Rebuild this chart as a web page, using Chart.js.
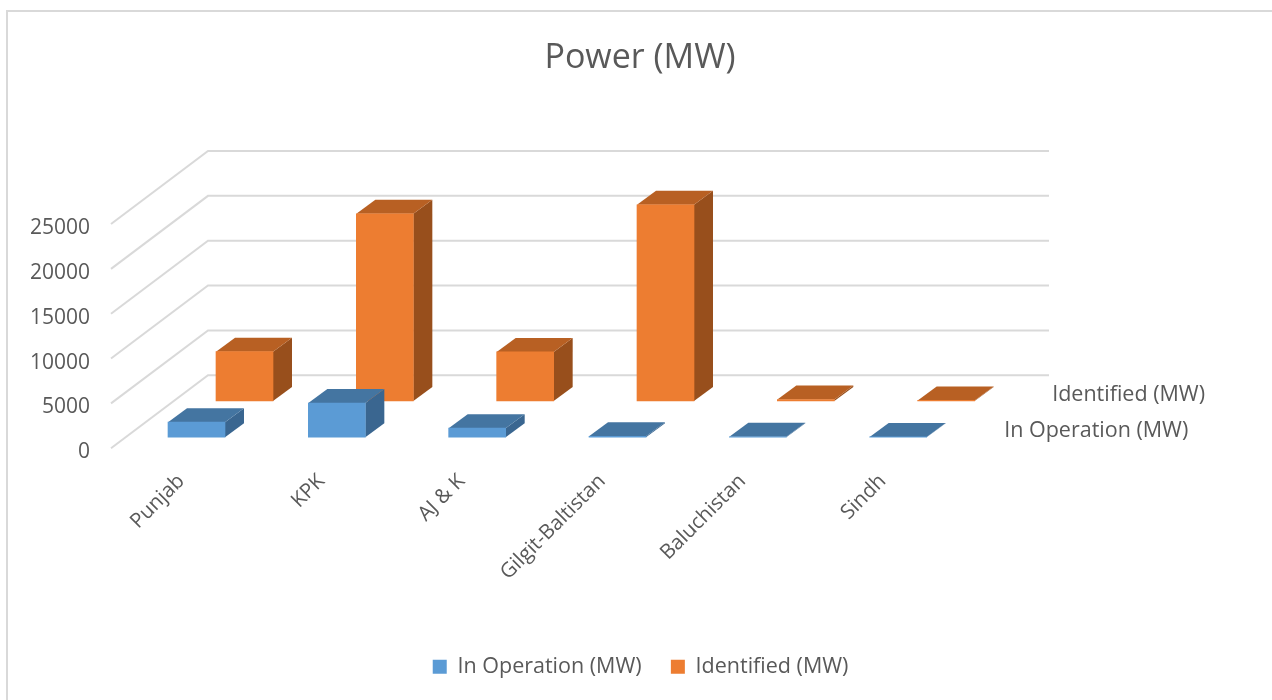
<!DOCTYPE html>
<html>
<head>
<meta charset="utf-8">
<style>html,body{margin:0;padding:0;background:#fff}canvas{display:block}</style>
<script src="https://cdn.jsdelivr.net/npm/chart.js@4"></script>
</head>
<body>
<canvas id="c" width="1272" height="700"></canvas>
<script>
const categories = ["Punjab","KPK","AJ & K","Gilgit-Baltistan","Baluchistan","Sindh"];
const inOperation = [1675,3800,1000,100,50,30];
const identified = [5500,20870,5470,21875,150,60];
const seriesNames = ["In Operation (MW)","Identified (MW)"];
const yTicks = [0,5000,10000,15000,20000,25000];
const titleText = "Power (MW)";

const FONT = "'Open Sans'";
const TEXT = "#595959";
const DEPTH = {dx:19, dy:14};
const FACES = [{top:"#4475A1",side:"#3A6690"},{top:"#B86023",side:"#984F1C"}];
const LABEL_SHIFT = 4;

const k = 223/25000;
const frontOff = 15/k, backOff = 51/k;
const step = 842/6;

const box3d = {
  id:"box3d",
  afterLayout(chart){
    const l = chart.legend, h = l.height;
    l.top = 657-h/2; l.bottom = l.top+h;
    l.left += 0.6; l.right += 0.6;
  },
  beforeDraw(chart){
    const c = chart.ctx;
    c.save();
    c.fillStyle="#fff"; c.fillRect(0,0,chart.width,chart.height);
    c.strokeStyle="#D9D9D9"; c.lineWidth=2;
    c.beginPath(); c.moveTo(7,702); c.lineTo(7,11); c.lineTo(1274,11); c.stroke();
    c.restore();
  },
  beforeDatasetsDraw(chart){
    const c = chart.ctx, y = chart.scales.y, a = chart.chartArea;
    c.save();
    c.strokeStyle="#D9D9D9"; c.lineWidth=2;
    yTicks.forEach(v=>{
      const p = y.getPixelForValue(v)-LABEL_SHIFT;
      c.beginPath(); c.moveTo(a.left,p); c.lineTo(a.left+97,p-73); c.lineTo(1049,p-73); c.stroke();
    });
    c.restore();
  },
  beforeDatasetDraw(chart,args){
    const c = chart.ctx, f = FACES[args.index];
    c.save();
    args.meta.data.forEach(el=>{
      const {x,y,base,width} = el.getProps(["x","y","base","width"],true);
      const r = x+width/2, l = x-width/2;
      c.fillStyle=f.side;
      c.beginPath(); c.moveTo(r,y); c.lineTo(r+DEPTH.dx,y-DEPTH.dy); c.lineTo(r+DEPTH.dx,base-DEPTH.dy); c.lineTo(r,base); c.closePath(); c.fill();
      c.fillStyle=f.top;
      c.beginPath(); c.moveTo(l,y); c.lineTo(l+DEPTH.dx,y-DEPTH.dy); c.lineTo(r+DEPTH.dx,y-DEPTH.dy); c.lineTo(r,y); c.closePath(); c.fill();
    });
    c.restore();
  },
  afterDatasetsDraw(chart){
    const c = chart.ctx;
    c.save();
    c.fillStyle=TEXT; c.font="21.5px "+FONT; c.textAlign="left"; c.textBaseline="middle";
    [0,1].forEach(i=>{
      const m = chart.getDatasetMeta(i);
      const last = categories.length-1;
      c.fillText(seriesNames[i], m.xScale.getPixelForValue(last)+106, m.yScale.getPixelForValue(0)-6);
    });
    c.restore();
  }
};

new Chart(document.getElementById("c"),{
  type:"bar",
  plugins:[box3d],
  data:{
    labels:categories,
    datasets:[
      {label:seriesNames[0],data:inOperation.map((v,i)=>({x:i,y:v})),backgroundColor:"#5B9BD5",xAxisID:"xFront",yAxisID:"yFront",barThickness:57,grouped:false,clip:false},
      {label:seriesNames[1],data:identified.map((v,i)=>({x:i,y:v})),backgroundColor:"#ED7D31",xAxisID:"xBack",yAxisID:"yBack",barThickness:57,grouped:false,clip:false}
    ]
  },
  options:{
    responsive:false,animation:false,
    layout:{padding:{left:8,right:0,top:0,bottom:0}},
    plugins:{
      title:{display:true,text:titleText,color:TEXT,font:{family:FONT,size:34,weight:"normal"},padding:{top:38,bottom:149.2}},
      legend:{position:"bottom",labels:{color:TEXT,font:{family:FONT,size:21.5},boxWidth:14,boxHeight:14,padding:29.25}},
      tooltip:{enabled:false}
    },
    scales:{
      x:{type:"category",labels:categories,offset:true,position:"bottom",
        grid:{display:false,drawTicks:false},border:{display:false},
        ticks:{color:TEXT,font:{family:FONT,size:20.5},minRotation:45,maxRotation:45,autoSkip:false,padding:17},
        afterFit:s=>{s.height=187;}},
      xFront:{type:"linear",display:false,offset:false,min:-85.5/step,max:-85.5/step+6},
      xBack:{type:"linear",display:false,offset:false,min:-133.5/step,max:-133.5/step+6},
      y:{type:"linear",min:0,max:25000,position:"left",
        grid:{display:false,drawTicks:false},border:{display:false},
        ticks:{color:TEXT,font:{family:FONT,size:21},padding:21,stepSize:5000,callback:v=>String(v)},
        afterFit:s=>{s.width=103;}},
      yFront:{type:"linear",display:false,min:-frontOff,max:25000-frontOff},
      yBack:{type:"linear",display:true,position:"right",min:-backOff,max:25000-backOff,
        grid:{display:false,drawTicks:false},border:{display:false},ticks:{display:false},
        afterFit:s=>{s.width=319;}}
    }
  }
});
</script>
</body>
</html>
